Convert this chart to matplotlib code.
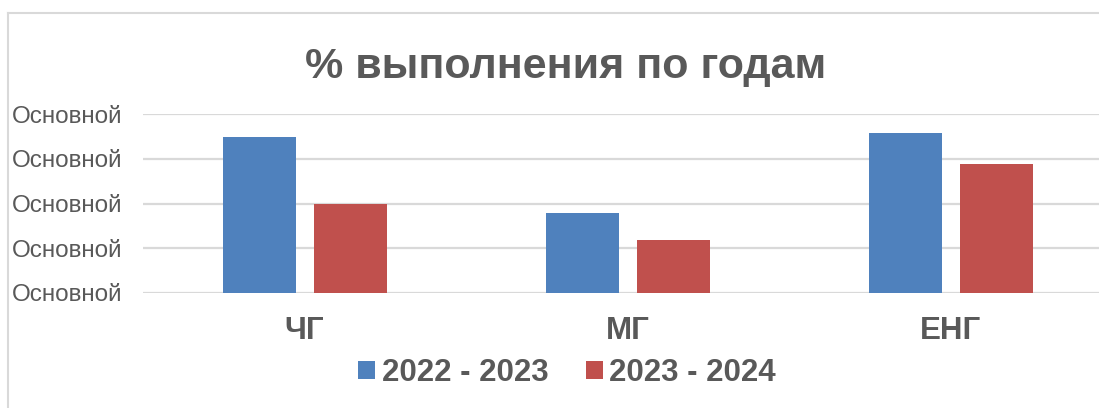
import matplotlib
matplotlib.use('Agg')
import matplotlib.pyplot as plt
from matplotlib.lines import Line2D
from matplotlib.patches import Patch
import numpy as np

plt.rcParams['font.family'] = ['Liberation Sans', 'DejaVu Sans']

categories = ['ЧГ', 'МГ', 'ЕНГ']
series_names = ['2022 - 2023', '2023 - 2024']
vals_2022 = [3.48, 1.78, 3.58]
vals_2023 = [2.0, 1.18, 2.89]
yticks = [0, 1, 2, 3, 4]
ytick_labels = ['Основной'] * 5

blue = '#4F81BD'
red = '#C0504D'
grey_txt = '#595959'
grid_col = '#D9D9D9'

fig = plt.figure(figsize=(10.99, 4.08), dpi=100)
ax = fig.add_axes([143 / 1099, 1 - 292.7 / 408, 1 - 143 / 1099, (292.7 - 114.3) / 408])

x = np.arange(len(categories))
w = 0.226
off = 0.141
ax.bar(x - off, vals_2022, width=w, color=blue, zorder=3)
ax.bar(x + off, vals_2023, width=w, color=red, zorder=3)

ax.set_xlim(-0.50, 2.458)
ax.set_ylim(0, 4)
ax.set_yticks(yticks)
ax.set_yticklabels(ytick_labels, fontsize=17.5, color=grey_txt)
ax.set_xticks(x)
ax.set_xticklabels(categories, fontsize=22.5, fontweight='bold', color=grey_txt)
ax.tick_params(axis='y', length=0, pad=15)
ax.tick_params(axis='x', length=0, pad=17)
ax.yaxis.grid(True, color=grid_col, linewidth=1.6, zorder=0)
for s in ax.spines.values():
    s.set_visible(False)

fig.text(566 / 1099, 1 - 67 / 408, '% выполнения по годам', ha='center', va='center',
         fontsize=31, fontweight='bold', color=grey_txt)

handles = [Patch(facecolor=blue, label=series_names[0]),
           Patch(facecolor=red, label=series_names[1])]
fig.legend(handles=handles, loc='center', bbox_to_anchor=(567 / 1099, 1 - 373 / 408),
           ncol=2, frameon=False, prop={'size': 22.5, 'weight': 'bold'},
           labelcolor=grey_txt, handlelength=0.55, handleheight=0.55,
           handletextpad=0.2, columnspacing=1.2)

# chart frame (partly cropped in original)
fig.add_artist(Line2D([8 / 1099, 1], [1 - 13 / 408, 1 - 13 / 408], color=grid_col, linewidth=1.5))
fig.add_artist(Line2D([8 / 1099, 8 / 1099], [0, 1 - 13 / 408], color=grid_col, linewidth=1.5))

fig.savefig('out.png', dpi=100)
